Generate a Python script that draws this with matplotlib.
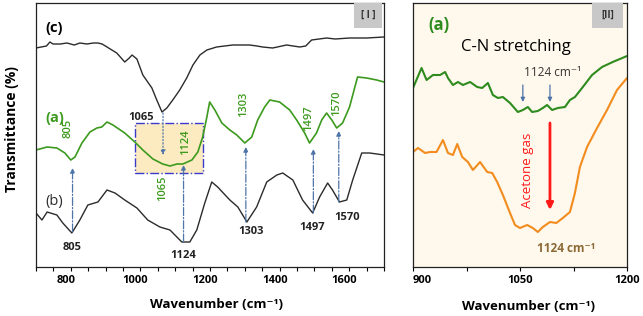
import matplotlib.pyplot as plt
from matplotlib.patches import Rectangle
from matplotlib.transforms import ScaledTranslation

plt.rcParams["font.family"] = ["Open Sans", "DejaVu Sans"]

# ---- panel I: FTIR spectra (arbitrary transmittance units) ----
wn_c = [700, 715, 730, 740, 749, 770, 789, 810, 826, 846, 865, 878, 890, 904,
        932, 955, 968, 976, 990, 1007, 1033, 1047, 1062, 1076, 1093, 1113, 1133,
        1151, 1171, 1191, 1219, 1265, 1314, 1335, 1351, 1380, 1420, 1458, 1475,
        1492, 1535, 1560, 1601, 1650, 1700]
tr_c = [219, 220, 221, 225, 223, 223, 224, 222, 224, 223, 224, 224, 223, 220,
        214, 205, 209, 212, 208, 192, 179, 167, 155, 159, 167, 177, 189,
        202, 212, 217, 220, 222, 222, 221, 220, 219, 222, 220, 221,
        227, 229, 228, 229, 229, 230]

wn_a = [700, 732, 760, 783, 800, 812, 832, 855, 875, 889, 904, 921, 955, 984,
        1007, 1036, 1064, 1085, 1105, 1122, 1148, 1165, 1179, 1191, 1199, 1214,
        1234, 1257, 1277, 1300, 1320, 1337, 1357, 1372, 1400, 1429, 1449, 1472,
        1486, 1506, 1521, 1535, 1550, 1564, 1581, 1601, 1624, 1650, 1679, 1700]
tr_a = [117, 120, 119, 114, 107, 110, 124, 135, 139, 140, 145, 142, 134, 125,
        117, 108, 103, 101, 103, 103, 107, 115, 130, 150, 165, 157,
        144, 137, 132, 124, 130, 147, 160, 167, 165, 157, 147, 134,
        124, 134, 147, 154, 147, 139, 144, 160, 190, 189, 187, 185]

wn_b = [700, 717, 732, 760, 777, 803, 826, 849, 878, 904, 927, 955, 990, 1021,
        1056, 1085, 1119, 1142, 1162, 1185, 1205, 1222, 1257, 1280, 1306, 1334,
        1363, 1392, 1409, 1438, 1466, 1495, 1515, 1538, 1552, 1572, 1593, 1610,
        1636, 1659, 1700]
tr_b = [54, 47, 55, 52, 44, 34, 47, 62, 65, 77, 74, 67, 59, 47,
        40, 37, 25, 25, 37, 64, 85, 80, 67, 60, 45, 60,
        85, 92, 94, 87, 67, 54, 70, 84, 77, 65, 67, 87,
        114, 114, 112]

peaks = [805, 1124, 1303, 1497, 1570]

# ---- panel II: C-N stretching region ----
wn_g = [900, 912, 919, 928, 938, 945, 949, 956, 963, 970, 980, 990, 997, 1005,
        1012, 1019, 1026, 1036, 1047, 1054, 1061, 1067, 1075, 1082, 1088, 1095,
        1103, 1113, 1120, 1127, 1137, 1151, 1165, 1180, 1200]
tr_g = [179, 199, 187, 192, 192, 195, 189, 182, 185, 182, 185, 180, 179, 184,
        172, 169, 170, 164, 155, 157, 160, 155, 156, 159, 162, 157,
        159, 160, 167, 170, 179, 192, 200, 205, 211]

wn_o = [900, 907, 917, 924, 933, 942, 949, 956, 962, 969, 977, 984, 994, 1004,
        1011, 1018, 1026, 1036, 1043, 1050, 1060, 1068, 1075, 1082, 1092, 1101,
        1110, 1120, 1127, 1134, 1144, 1158, 1172, 1186, 1200]
tr_o = [115, 119, 114, 115, 115, 127, 114, 112, 123, 110, 105, 97, 105, 95,
        94, 85, 72, 54, 42, 39, 42, 39, 35, 40, 45, 44,
        49, 55, 74, 100, 120, 139, 157, 177, 189]

arrow_col = "#4F74A8"


def up_arrow(ax, x, y0, y1, ls="-."):
    ax.annotate("", xy=(x, y1), xytext=(x, y0),
                arrowprops=dict(arrowstyle="-|>", color=arrow_col, lw=0.9,
                                linestyle=ls, mutation_scale=7,
                                shrinkA=0, shrinkB=0))


def plot():
    fig = plt.figure(figsize=(6.43, 3.16), dpi=100)
    ax1 = fig.add_axes((36 / 643, 49 / 316, 348 / 643, 264 / 316))
    ax2 = fig.add_axes((413 / 643, 49 / 316, 214 / 643, 264 / 316))

    # panel I
    line_kw = dict(solid_joinstyle="round", solid_capstyle="round")
    ax1.plot(wn_c, tr_c, color="#2b2b2b", lw=1.0, **line_kw)
    ax1.plot(wn_a, tr_a, color="#3c9a1e", lw=1.2, **line_kw)
    ax1.plot(wn_b, tr_b, color="#2b2b2b", lw=1.0, **line_kw)
    ax1.set_xlim(700, 1700)
    ax1.set_ylim(0, 264)
    ax1.set_xticks([800, 1000, 1200, 1400, 1600])
    ax1.set_xticks(range(700, 1701, 50), minor=True)
    ax1.set_yticks([])
    ax1.tick_params(axis="x", which="both", direction="out", length=3, width=0.8,
                    labelsize=8, pad=3)
    for lab in ax1.get_xticklabels():
        lab.set_fontweight("bold")
        lab.set_transform(lab.get_transform()
                          + ScaledTranslation(-5 / 100, 0, fig.dpi_scale_trans))

    ax1.add_patch(Rectangle((985, 94), 195, 50, facecolor="#fcebc0",
                            edgecolor="#3a3acc", ls="-.", lw=1.0, zorder=0))

    # arrows from curve (b) up to curve (a)
    up_arrow(ax1, peaks[0], 35, 99)
    up_arrow(ax1, peaks[1], 25, 102)
    up_arrow(ax1, peaks[2], 45, 120)
    up_arrow(ax1, peaks[3], 54, 118)
    up_arrow(ax1, peaks[4], 65, 136)
    up_arrow(ax1, 1065, 154, 112, ls=":")

    green = "#3c9a1e"
    ax1.text(726, 239, "(c)", fontsize=10.5, fontweight="bold", va="center")
    ax1.text(726, 149, "(a)", fontsize=10.5, fontweight="bold", color=green,
             va="center")
    ax1.text(726, 65, "(b)", fontsize=10.5, va="center", color="#2b2b2b")

    for x, y, s in [(791, 139, "805"), (1065, 79, "1065"), (1130, 125, "1124"),
                    (1298, 163, "1303"), (1482, 149, "1497"),
                    (1565, 164, "1570")]:
        ax1.text(x, y, s, rotation=90, color=green, fontsize=8,
                 fontweight="semibold", ha="center", va="center")
    for x, y, s in [(1002, 150, "1065"), (803, 20, "805"), (1122, 12, "1124"),
                    (1318, 35, "1303"), (1493, 40, "1497"), (1594, 49, "1570")]:
        ax1.text(x, y, s, color="#222222", fontsize=8, fontweight="bold",
                 ha="center", va="center")

    # panel II
    ax2.set_facecolor("#fff8ec")
    ax2.plot(wn_g, tr_g, color="#2e8b1e", lw=1.5, **line_kw)
    ax2.plot(wn_o, tr_o, color="#f28c1e", lw=1.5, **line_kw)
    ax2.set_xlim(900, 1200)
    ax2.set_ylim(0, 264)
    ax2.set_xticks([900, 975, 1050, 1125, 1200], ["900", "", "1050", "", "1200"])
    ax2.set_yticks([])
    ax2.tick_params(axis="x", direction="out", length=3, width=0.8,
                    labelsize=8, pad=3)
    for lab in ax2.get_xticklabels():
        lab.set_fontweight("bold")
    ax2.get_xticklabels()[0].set_horizontalalignment("left")

    ax2.text(921, 242, "(a)", fontsize=12, fontweight="bold", color="#2e8b1e",
             va="center")
    ax2.text(1044, 220, "C-N stretching", fontsize=12, ha="center", va="center")
    ax2.text(1096, 195, "1124 cm⁻¹", fontsize=8.5, color="#333333",
             ha="center", va="center")
    for x in [1054, 1092]:
        ax2.annotate("", xy=(x, 165), xytext=(x, 182),
                     arrowprops=dict(arrowstyle="-|>", color=arrow_col, lw=0.9,
                                     mutation_scale=6, shrinkA=0, shrinkB=0))
    ax2.annotate("", xy=(1092, 57), xytext=(1092, 144),
                 arrowprops=dict(arrowstyle="-|>", color="#ff1a1a", lw=2,
                                 mutation_scale=10, shrinkA=0, shrinkB=0))
    ax2.text(1060, 97, "Acetone gas", rotation=90, fontsize=9.5,
             color="#ff1a1a", ha="center", va="center")
    ax2.text(1114, 19, "1124 cm⁻¹", fontsize=8.5, fontweight="bold",
             color="#8b6a36", ha="center", va="center")

    for ax, x0, w, s in [(ax1, 0.915, 0.078, "[ I ]"), (ax2, 0.836, 0.145, "[II]")]:
        ax.add_patch(Rectangle((x0, 0.905), w, 0.095, transform=ax.transAxes,
                               facecolor="#c8c8c8", edgecolor="none", zorder=3))
        ax.text(x0 + w / 2, 0.952, s, transform=ax.transAxes, fontsize=7,
                fontweight="bold", color="#333333", ha="center", va="center",
                zorder=4)

    for ax in (ax1, ax2):
        for sp in ax.spines.values():
            sp.set_linewidth(0.9)
            sp.set_color("#222222")

    fig.text(12 / 643, 1 - 129 / 316, "Transmittance (%)", rotation=90,
             fontsize=10, fontweight="bold", ha="center", va="center")
    fig.text(216 / 643, 1 - 305 / 316, "Wavenumber (cm⁻¹)", fontsize=9.5,
             fontweight="bold", ha="center", va="center")
    fig.text(529 / 643, 1 - 307 / 316, "Wavenumber (cm⁻¹)", fontsize=9.5,
             fontweight="bold", ha="center", va="center")

    fig.savefig("out.png", dpi=100)
    plt.close(fig)


if __name__ == "__main__":
    plot()
